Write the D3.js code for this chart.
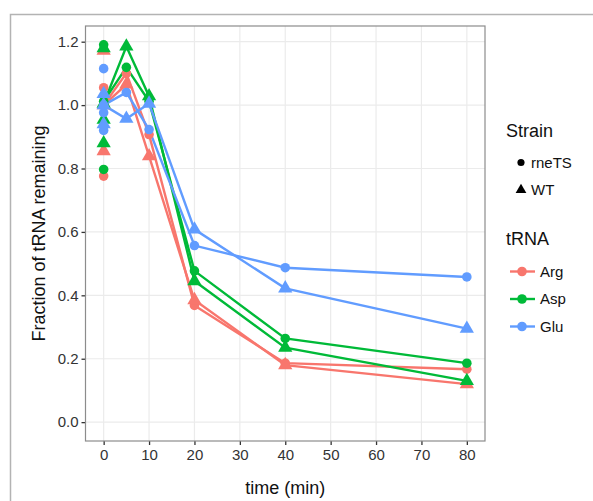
<!DOCTYPE html>
<html>
<head>
<meta charset="utf-8">
<script src="https://cdn.jsdelivr.net/npm/d3@7"></script>
<style>
  body { margin: 0; background: #fff; }
  text { font-family: "Liberation Sans", Arial, sans-serif; }
</style>
</head>
<body>
<svg class="svgMain" width="593" height="501"></svg>
<script>
// tRNA decay plot, ggplot-ish look

var times = [0, 5, 10, 20, 40, 80];
var xTicks = [0, 10, 20, 30, 40, 50, 60, 70, 80];
var yTicks = [0.0, 0.2, 0.4, 0.6, 0.8, 1.0, 1.2];

var trnaNames = ["Arg", "Asp", "Glu"];
var strainNames = ["rneTS", "WT"];
var trnaColors = ["#F8766D", "#00BA38", "#619CFF"];

// line values (t = 0 is the normalised mean)
var argRne = [1.00, 1.10, 0.907, 0.368, 0.186, 0.167];
var argWT  = [1.00, 1.065, 0.839, 0.385, 0.180, 0.120];
var aspRne = [1.012, 1.119, 1.012, 0.477, 0.264, 0.186];
var aspWT  = [1.005, 1.185, 1.028, 0.445, 0.235, 0.130];
var gluRne = [1.00, 1.040, 0.923, 0.557, 0.487, 0.458];
var gluWT  = [1.00, 0.957, 1.005, 0.608, 0.422, 0.295];

// replicate points at t = 0
var argRne0 = [1.055, 0.776];
var argWT0  = [1.172, 0.855];
var aspRne0 = [1.190, 0.797];
var aspWT0  = [1.180, 0.954, 0.880];
var gluRne0 = [1.115, 0.976, 0.920];
var gluWT0  = [1.035, 0.940];

var series = [
    { trna: 0, strain: 0, vals: argRne, reps: argRne0 },
    { trna: 0, strain: 1, vals: argWT,  reps: argWT0 },
    { trna: 1, strain: 0, vals: aspRne, reps: aspRne0 },
    { trna: 1, strain: 1, vals: aspWT,  reps: aspWT0 },
    { trna: 2, strain: 0, vals: gluRne, reps: gluRne0 },
    { trna: 2, strain: 1, vals: gluWT,  reps: gluWT0 }
];

var PANEL_L = 85.5, PANEL_R = 485, PANEL_T = 26, PANEL_B = 441;

var svg = d3.select(".svgMain");

var x = d3.scaleLinear().domain([-4, 84]).range([PANEL_L, PANEL_R]);
var y = d3.scaleLinear().domain([-0.0595, 1.2495]).range([PANEL_B, PANEL_T]);

function shapePath (strain, big) {
    if (strain == 0) return d3.symbol().type(d3.symbolCircle).size(big ? 72 : 40)();
    return d3.symbol().type(d3.symbolTriangle).size(big ? 88 : 50)();
}

// outer frame
svg.append("path")
    .attr("d", "M10.5,501 L10.5,14.5 L593,14.5")
    .attr("fill", "none").attr("stroke", "#b3b3b3").attr("stroke-width", 1.5);

// panel background + grid
svg.append("rect")
    .attr("x", PANEL_L).attr("y", PANEL_T)
    .attr("width", PANEL_R - PANEL_L).attr("height", PANEL_B - PANEL_T)
    .attr("fill", "white");

svg.append("g").selectAll("line").data(xTicks).join("line")
    .attr("x1", d => x(d)).attr("x2", d => x(d))
    .attr("y1", PANEL_T).attr("y2", PANEL_B)
    .attr("stroke", "#ebebeb").attr("stroke-width", 1.2);
svg.append("g").selectAll("line").data(yTicks).join("line")
    .attr("x1", PANEL_L).attr("x2", PANEL_R)
    .attr("y1", d => y(d)).attr("y2", d => y(d))
    .attr("stroke", "#ebebeb").attr("stroke-width", 1.2);

// axes
var xAxis = svg.append("g")
    .attr("transform", "translate(0," + PANEL_B + ")")
    .call(d3.axisBottom(x).tickValues(xTicks).tickSize(4).tickPadding(4));
var yAxis = svg.append("g")
    .attr("transform", "translate(" + PANEL_L + ",0)")
    .call(d3.axisLeft(y).tickValues(yTicks).tickFormat(d3.format(".1f")).tickSize(4).tickPadding(3));
[xAxis, yAxis].forEach(function (g) {
    g.select(".domain").remove();
    g.selectAll(".tick line").attr("stroke", "#333").attr("stroke-width", 1.3);
    g.selectAll(".tick text").attr("fill", "#333")
        .style("font-family", "Liberation Sans, Arial, sans-serif")
        .style("font-size", "15px");
});

// lines
var line = d3.line().x((d, i) => x(times[i])).y(d => y(d));
svg.append("g").selectAll("path").data(series).join("path")
    .attr("d", d => line(d.vals))
    .attr("fill", "none")
    .attr("stroke", d => trnaColors[d.trna])
    .attr("stroke-width", 2.4);

// points
var pts = [];
series.forEach(function (s) {
    s.vals.forEach(function (v, i) { pts.push({ t: times[i], v: v, s: s }); });
    s.reps.forEach(function (v) { pts.push({ t: 0, v: v, s: s }); });
});
svg.append("g").selectAll("path").data(pts).join("path")
    .attr("d", d => shapePath(d.s.strain, true))
    .attr("transform", d => "translate(" + x(d.t) + "," + y(d.v) + ")")
    .attr("fill", d => trnaColors[d.s.trna]);

// panel border
svg.append("rect")
    .attr("x", PANEL_L).attr("y", PANEL_T)
    .attr("width", PANEL_R - PANEL_L).attr("height", PANEL_B - PANEL_T)
    .attr("fill", "none").attr("stroke", "#8c8c8c").attr("stroke-width", 1.2);

// axis titles
svg.append("text")
    .attr("x", (PANEL_L + PANEL_R) / 2).attr("y", 494)
    .attr("text-anchor", "middle").attr("font-size", 18).attr("fill", "#111")
    .text("time (min)");
svg.append("text")
    .attr("transform", "translate(45," + (PANEL_T + PANEL_B) / 2 + ") rotate(-90)")
    .attr("text-anchor", "middle").attr("font-size", 18).attr("fill", "#111")
    .text("Fraction of tRNA remaining");

// legend: strain
var leg = svg.append("g");
leg.append("text").attr("x", 506).attr("y", 137).attr("font-size", 18).attr("fill", "#111").text("Strain");
strainNames.forEach(function (name, i) {
    var cy = 162.5 + i * 27.5;
    leg.append("path").attr("d", shapePath(i, false))
        .attr("transform", "translate(521," + cy + ")").attr("fill", "#000");
    leg.append("text").attr("x", 531).attr("y", cy + 5).attr("font-size", 15).attr("fill", "#111").text(name);
});

// legend: tRNA
leg.append("text").attr("x", 506).attr("y", 245).attr("font-size", 18).attr("fill", "#111").text("tRNA");
trnaNames.forEach(function (name, i) {
    var cy = 271.5 + i * 27.5;
    leg.append("line").attr("x1", 510).attr("x2", 535).attr("y1", cy).attr("y2", cy)
        .attr("stroke", trnaColors[i]).attr("stroke-width", 2.4);
    leg.append("path").attr("d", shapePath(0, true))
        .attr("transform", "translate(522," + cy + ")").attr("fill", trnaColors[i]);
    leg.append("text").attr("x", 540).attr("y", cy + 5).attr("font-size", 15).attr("fill", "#111").text(name);
});
</script>
</body>
</html>
